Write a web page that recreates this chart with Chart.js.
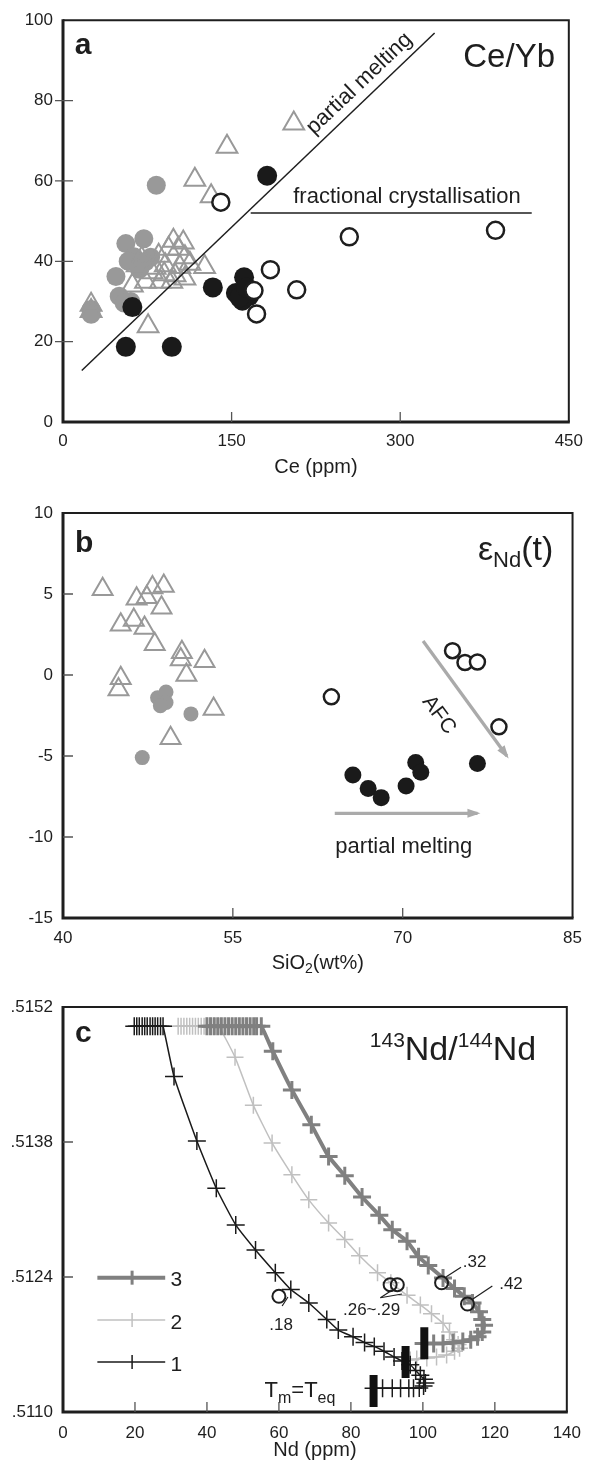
<!DOCTYPE html>
<html lang="en">
<head>
<meta charset="UTF-8">
<title>Ce/Yb, eNd(t) and 143Nd/144Nd diagrams</title>
<script src="https://cdn.jsdelivr.net/npm/chart.js"></script>
<style>
  body { margin: 0; background: #fff; }
  #wrap { position: relative; width: 592px; height: 1466px; }
  canvas { position: absolute; left: 0; }
</style>
</head>
<body>
<div id="wrap">
  <canvas id="chartA" width="592" height="480" style="top:0px"></canvas>
  <canvas id="chartB" width="592" height="500" style="top:480px"></canvas>
  <canvas id="chartC" width="592" height="486" style="top:980px"></canvas>
</div>
<script>
// ---------- panel a : Ce/Yb vs Ce (ppm)
const ceTicks = [0, 150, 300, 450];
const ceYbTicks = [0, 20, 40, 60, 80, 100];

const aOpenCe    = [140.4, 184.5, 169.9, 172.2, 207.9, 254.7, 384.8];
const aOpenRatio = [54.7, 37.9, 32.7, 26.9, 32.9, 46.1, 47.7];
const aBlackCe    = [181.6, 61.7, 55.9, 96.8, 133.3, 161.1, 153.8, 159.6, 165.5, 157.0, 163.0];
const aBlackRatio = [61.3, 28.6, 18.7, 18.7, 33.5, 36.0, 32.1, 30.2, 31.3, 31.0, 33.5];
const aTriCe    = [145.9, 117.3, 131.8, 205.3, 75.7, 126.0, 98.2, 107.0, 85.1, 108.5, 66.0, 79.2, 91.0, 99.7, 108.5,
                   73.4, 86.6, 96.8, 61.7, 112.9, 93.9, 102.6, 70.0, 82.0, 90.0, 104.0, 25.0, 25.0];
const aTriRatio = [68.5, 60.3, 56.2, 74.3, 23.8, 38.6, 45.1, 44.7, 41.4, 41.0, 39.0, 37.3, 39.0, 36.5, 35.7,
                   34.9, 34.9, 34.9, 34.0, 39.4, 43.1, 43.1, 40.7, 38.4, 36.8, 38.6, 29.2, 27.6];
const aGrayCe    = [83.0, 55.9, 71.9, 63.2, 47.1, 50.0, 60.2, 54.4, 73.4, 78.0, 68.0, 58.0, 25.0, 25.0];
const aGrayRatio = [58.9, 44.4, 45.6, 41.1, 36.2, 31.3, 30.0, 29.6, 39.9, 41.0, 38.0, 40.0, 28.0, 26.8];
// trend lines
const aMeltCe = [16.7, 330.6];
const aMeltRatio = [12.8, 96.8];
const aFracCe = [167, 417];
const aFracRatio = [52, 52];

// ---------- panel b : eNd(t) vs SiO2 (wt%)
const siTicks = [40, 55, 70, 85];
const eNdTicks = [-15, -10, -5, 0, 5, 10];

const bTriSi  = [43.5, 46.5, 47.4, 47.9, 48.9, 48.7, 46.25, 45.1, 47.2, 48.1, 50.5, 50.4, 52.5, 50.9, 45.1, 44.9, 53.3, 49.5];
const bTriENd = [5.3, 4.7, 4.8, 5.4, 5.5, 4.15, 3.4, 3.1, 2.9, 1.9, 1.4, 0.95, 0.85, 0.0, -0.2, -0.9, -2.1, -3.9];
const bGraySi  = [48.35, 49.1, 49.1, 48.6, 51.3, 47.0];
const bGrayENd = [-1.4, -1.05, -1.7, -1.9, -2.4, -5.1];
const bOpenSi  = [63.7, 74.4, 75.5, 76.6, 78.5];
const bOpenENd = [-1.35, 1.5, 0.77, 0.8, -3.2];
const bBlackSi  = [65.6, 66.95, 68.1, 70.3, 71.15, 71.6, 76.6];
const bBlackENd = [-6.17, -7.0, -7.57, -6.85, -5.4, -6.0, -5.47];
// arrows
const bAfcSi = [71.8, 79.2];
const bAfcENd = [2.1, -5.0];
const bMeltSi = [64.0, 76.6];
const bMeltENd = [-8.54, -8.54];

// ---------- panel c : 143Nd/144Nd vs Nd (ppm)
const ndTicks = [0, 20, 40, 60, 80, 100, 120, 140];
const ndRatioTicks = [0.5110, 0.5124, 0.5138, 0.5152];

const c1Nd = [19.8, 20.5, 21.2, 22.0, 22.7, 23.4, 24.2, 24.9, 25.6, 26.3, 27.1, 27.8,
              30.85, 37.2, 42.6, 48.0, 53.5, 59.0, 63.3, 68.3, 73.3, 76.5, 80.6, 83.8, 86.5, 89.2,
              92.0, 94.2, 96.5, 98.0, 99.3, 100.3, 100.7, 100.2, 99.0, 97.4, 96.1, 93.8, 91.5, 88.8, 86.3];
const c1Ratio = [0.515, 0.515, 0.515, 0.515, 0.515, 0.515, 0.515, 0.515, 0.515, 0.515, 0.515, 0.515,
                 0.51448, 0.51381, 0.51332, 0.51294, 0.51268, 0.512445, 0.51227, 0.51213, 0.51196, 0.51185,
                 0.51178, 0.51172, 0.51168, 0.51163, 0.51157, 0.51153, 0.51149, 0.51143, 0.51138, 0.51134,
                 0.51130, 0.51127, 0.51125, 0.511246, 0.511246, 0.511246, 0.511246, 0.511246, 0.511246];
const c2Nd = [32.0, 32.8, 33.6, 34.4, 35.2, 36.0, 36.8, 37.6, 38.4, 39.2, 40.0, 41.0, 42.2, 43.3,
              47.8, 52.9, 58.1, 63.6, 68.3, 73.8, 78.3, 82.4, 87.4, 91.1, 95.6, 99.3, 102.4, 105.6,
              107.4, 108.8, 109.8, 110.2, 108.8, 106.6, 103.8, 101.1, 98.3, 96.5];
const c2Ratio = [0.515, 0.515, 0.515, 0.515, 0.515, 0.515, 0.515, 0.515, 0.515, 0.515, 0.515, 0.515, 0.515, 0.515,
                 0.51468, 0.51418, 0.51379, 0.51346, 0.5132, 0.51296, 0.51279, 0.51262, 0.512445, 0.51234,
                 0.51221, 0.51211, 0.51202, 0.51192, 0.51183, 0.51175, 0.51170, 0.51166, 0.51163, 0.51159,
                 0.51157, 0.51156, 0.51155, 0.51154];
const c3Nd = [40, 41, 42, 43, 44, 45, 46, 47, 48, 49, 50, 51, 52, 53, 53.8, 55.1,
              58.3, 63.6, 69.0, 73.8, 78.3, 83.1, 87.9, 91.5, 95.6, 98.8, 101.5, 105.6, 108.8, 111.5,
              113.8, 115.6, 116.5, 117.0, 116.5, 115.2, 113.3, 111.1, 108.4, 105.6, 103.0, 100.2];
const c3Ratio = [0.515, 0.515, 0.515, 0.515, 0.515, 0.515, 0.515, 0.515, 0.515, 0.515, 0.515, 0.515, 0.515, 0.515, 0.515, 0.515,
                 0.51474, 0.51434, 0.51398, 0.51365, 0.51345, 0.51323, 0.51304, 0.51289, 0.51277, 0.51261,
                 0.51252, 0.51239, 0.51228, 0.51220, 0.51213, 0.51204, 0.51196, 0.51190, 0.51183, 0.51178,
                 0.51175, 0.51173, 0.51172, 0.51171, 0.51171, 0.51171];
// Tm=Teq bars and samples
const cBarNd = [86.3, 95.2, 100.4];
const cBarRatio = [0.511218, 0.511519, 0.511712];
const cOpenNd = [60.0, 90.9, 92.9, 105.2, 112.4];
const cOpenRatio = [0.51220, 0.51232, 0.51232, 0.51234, 0.51212];
const cLeadNd = [[60.9, 62.5], [88.2, 91.5], [88.2, 94.2], [106.5, 110.6], [113.8, 119.3]];
const cLeadRatio = [[0.512099, 0.512193], [0.512185, 0.512265], [0.512185, 0.512224], [0.512403, 0.5125], [0.512169, 0.512307]];

// ---------- drawing
const INK = '#1e1e1e';
const GRAY = '#999999';
const FONT = "'Liberation Sans', Arial, Helvetica, sans-serif";

const pts = (xs, ys) => xs.map((v, i) => ({ x: v, y: ys[i] }));

function drawNote(ctx, px, py, n) {
  ctx.save();
  ctx.translate(px, py);
  if (n.rot) ctx.rotate(n.rot * Math.PI / 180);
  ctx.fillStyle = n.color || INK;
  ctx.textBaseline = n.base || 'alphabetic';
  ctx.textAlign = 'left';
  const font = r => (n.bold ? 'bold ' : '') + r[1] + 'px ' + FONT;
  let w = 0;
  n.runs.forEach(r => { ctx.font = font(r); w += ctx.measureText(r[0]).width; });
  let cx = n.align === 'right' ? -w : n.align === 'center' ? -w / 2 : 0;
  n.runs.forEach(r => {
    ctx.font = font(r);
    ctx.fillText(r[0], cx, r[2] || 0);
    cx += ctx.measureText(r[0]).width;
  });
  ctx.restore();
}

function makeDecor(cfg) {
  return {
    id: 'decor',
    afterDatasetsDraw(chart) {
      const { ctx, chartArea: a, scales: { x, y } } = chart;

      // arrow heads on trend arrows
      chart.data.datasets.forEach((ds, i) => {
        if (!ds.arrowHead) return;
        const el = chart.getDatasetMeta(i).data;
        const p1 = el[el.length - 2], p2 = el[el.length - 1];
        const ang = Math.atan2(p2.y - p1.y, p2.x - p1.x);
        ctx.save();
        ctx.translate(p2.x, p2.y);
        ctx.rotate(ang);
        ctx.fillStyle = ds.borderColor;
        ctx.beginPath();
        ctx.moveTo(3, 0); ctx.lineTo(-10, -4.5); ctx.lineTo(-10, 4.5);
        ctx.closePath(); ctx.fill();
        ctx.restore();
      });

      // legend (panel c)
      if (cfg.legend) {
        const L = cfg.legend;
        L.rows.forEach(r => {
          const py = y.getPixelForValue(r.y);
          const x0 = x.getPixelForValue(L.x0), x1 = x.getPixelForValue(L.x1), xm = x.getPixelForValue(L.xm);
          ctx.save();
          ctx.strokeStyle = r.color;
          ctx.lineWidth = r.lw;
          ctx.beginPath(); ctx.moveTo(x0, py); ctx.lineTo(x1, py); ctx.stroke();
          ctx.lineWidth = r.pw;
          ctx.beginPath(); ctx.moveTo(xm, py - r.r); ctx.lineTo(xm, py + r.r); ctx.stroke();
          ctx.restore();
          drawNote(ctx, x.getPixelForValue(L.xl), py + 3, { runs: [[r.label, 21]], base: 'middle' });
        });
      }

      // text notes
      cfg.notes.forEach(n => drawNote(ctx, x.getPixelForValue(n.x), y.getPixelForValue(n.y), n));

      // axis title
      drawNote(ctx, (a.left + a.right) / 2, a.bottom + cfg.titleDy, { runs: cfg.title, align: 'center', base: 'middle' });

      // frame and ticks
      ctx.save();
      ctx.strokeStyle = INK;
      ctx.lineWidth = 2;
      ctx.beginPath(); ctx.moveTo(a.left, a.top); ctx.lineTo(a.right, a.top); ctx.lineTo(a.right, a.bottom); ctx.stroke();
      ctx.lineWidth = 3;
      ctx.beginPath(); ctx.moveTo(a.left, a.top - 1); ctx.lineTo(a.left, a.bottom); ctx.lineTo(a.right + 1, a.bottom); ctx.stroke();
      ctx.strokeStyle = '#555';
      ctx.lineWidth = 1.3;
      ctx.beginPath();
      x.ticks.forEach(t => {
        const px = x.getPixelForValue(t.value);
        if (px < a.left + 3 || px > a.right - 3) return;
        ctx.moveTo(px, a.bottom); ctx.lineTo(px, a.bottom - 10);
      });
      y.ticks.forEach(t => {
        const py = y.getPixelForValue(t.value);
        if (py < a.top + 3 || py > a.bottom - 3) return;
        ctx.moveTo(a.left - cfg.yOut, py); ctx.lineTo(a.left + 10, py);
      });
      ctx.stroke();
      ctx.restore();
    }
  };
}

function scaleOpts(min, max, tickValues, fit, pad, fmt) {
  return {
    type: 'linear', min: min, max: max,
    afterBuildTicks: s => { s.ticks = tickValues.map(v => ({ value: v })); },
    afterFit: fit,
    grid: { display: false, drawTicks: false },
    border: { display: false },
    ticks: {
      color: INK, font: { family: FONT, size: 17 }, padding: pad,
      autoSkip: false, maxRotation: 0, callback: fmt || (v => v)
    }
  };
}

function scatter(data, style, color, r, fill, bw) {
  return {
    data: data, showLine: false, pointStyle: style, pointRadius: r,
    pointBackgroundColor: fill, pointBorderColor: color, pointBorderWidth: bw
  };
}

function line(data, color, w, arrow) {
  return { data: data, showLine: true, pointRadius: 0, borderColor: color, borderWidth: w, arrowHead: !!arrow };
}

function makeChart(id, datasets, xs, ys, padTop, decor) {
  return new Chart(document.getElementById(id), {
    type: 'scatter',
    data: { datasets: datasets },
    options: {
      responsive: false, animation: false, events: [],
      layout: { padding: { top: padTop, right: 16, left: 0, bottom: 0 } },
      plugins: { legend: { display: false }, tooltip: { enabled: false } },
      scales: { x: xs, y: ys }
    },
    plugins: [decor]
  });
}

// panel a
makeChart('chartA', [
  scatter(pts(aOpenCe, aOpenRatio), 'circle', INK, 8.5, '#fff', 2.5),
  scatter(pts(aBlackCe, aBlackRatio), 'circle', '#1a1a1a', 10, '#1a1a1a', 0),
  line(pts(aMeltCe, aMeltRatio), INK, 1.5),
  line(pts(aFracCe, aFracRatio), INK, 1.5),
  scatter(pts(aTriCe, aTriRatio), 'triangle', GRAY, 12, 'rgba(0,0,0,0)', 2),
  scatter(pts(aGrayCe, aGrayRatio), 'circle', GRAY, 9.5, GRAY, 0)
],
  scaleOpts(0, 450, ceTicks, s => { s.height = 58; }, 9),
  scaleOpts(0, 100, ceYbTicks, s => { s.width = 63; }, 10),
  16,
  makeDecor({
    yOut: 8, titleDy: 45, title: [['Ce (ppm)', 20]],
    notes: [
      { x: 10.5, y: 91.6, runs: [['a', 30]], bold: true },
      { x: 437.7, y: 88.4, runs: [['Ce/Yb', 33]], align: 'right' },
      { x: 263.6, y: 84.2, runs: [['partial melting', 22]], align: 'center', base: 'middle', rot: -43.6 },
      { x: 306, y: 55.9, runs: [['fractional crystallisation', 22]], align: 'center', base: 'middle' }
    ]
  })
);

// panel b
makeChart('chartB', [
  scatter(pts(bOpenSi, bOpenENd), 'circle', INK, 7.5, '#fff', 2.5),
  scatter(pts(bBlackSi, bBlackENd), 'circle', '#1a1a1a', 8.5, '#1a1a1a', 0),
  line(pts(bAfcSi, bAfcENd), '#aaaaaa', 3.3, true),
  line(pts(bMeltSi, bMeltENd), '#aaaaaa', 3.3, true),
  scatter(pts(bTriSi, bTriENd), 'triangle', GRAY, 11.5, 'rgba(0,0,0,0)', 2),
  scatter(pts(bGraySi, bGrayENd), 'circle', GRAY, 7.5, GRAY, 0)
],
  scaleOpts(40, 85, siTicks, s => { s.height = 62; }, 10),
  scaleOpts(-15, 10, eNdTicks, s => { s.width = 63; }, 10),
  33,
  makeDecor({
    yOut: 0, titleDy: 45, title: [['SiO', 20], ['2', 14, 6], ['(wt%)', 20]],
    notes: [
      { x: 41.05, y: 7.6, runs: [['b', 30]], bold: true },
      { x: 83.3, y: 7.1, runs: [['ε', 34], ['Nd', 22, 7], ['(t)', 34]], align: 'right' },
      { x: 70.1, y: -10.6, runs: [['partial melting', 22]], align: 'center', base: 'middle' },
      { x: 73.2, y: -2.47, runs: [['AFC', 21]], align: 'center', base: 'middle', rot: 53.5 }
    ]
  })
);

// panel c
const cDatasets = [
  scatter(pts(cOpenNd, cOpenRatio), 'circle', INK, 6.5, 'rgba(0,0,0,0)', 2),
  { data: pts(cBarNd, cBarRatio), showLine: false, pointStyle: 'line', pointRotation: 90,
    pointRadius: 16, pointBorderColor: '#111', pointBorderWidth: 8 }
];
cLeadNd.forEach((xs, i) => cDatasets.push(line(pts(xs, cLeadRatio[i]), INK, 1.2)));
cDatasets.push(
  { data: pts(c1Nd, c1Ratio), showLine: true, tension: 0.15, borderColor: '#1a1a1a', borderWidth: 1.5,
    pointStyle: 'cross', pointRadius: 9, pointBorderColor: '#1a1a1a', pointBorderWidth: 1.5 },
  { data: pts(c3Nd, c3Ratio), showLine: true, tension: 0.15, borderColor: '#808080', borderWidth: 4,
    pointStyle: 'cross', pointRadius: 9, pointBorderColor: '#808080', pointBorderWidth: 3 },
  { data: pts(c2Nd, c2Ratio), showLine: true, tension: 0.15, borderColor: '#c0c0c0', borderWidth: 1.5,
    pointStyle: 'cross', pointRadius: 8.5, pointBorderColor: '#c0c0c0', pointBorderWidth: 1.5 }
);

makeChart('chartC', cDatasets,
  scaleOpts(0, 140, ndTicks, s => { s.height = 54; }, 11),
  scaleOpts(0.5110, 0.5152, ndRatioTicks, s => { s.width = 63; }, 10, v => '.' + Math.round(v * 10000)),
  27,
  makeDecor({
    yOut: 0, titleDy: 38, title: [['Nd (ppm)', 20]],
    legend: {
      x0: 9.55, x1: 28.4, xm: 19.2, xl: 29.9,
      rows: [
        { label: '3', color: '#808080', lw: 4, pw: 3, r: 7, y: 0.512393 },
        { label: '2', color: '#c0c0c0', lw: 1.5, pw: 1.5, r: 7, y: 0.511954 },
        { label: '1', color: '#1a1a1a', lw: 1.5, pw: 1.5, r: 7, y: 0.511519 }
      ]
    },
    notes: [
      { x: 3.3, y: 0.51484, runs: [['c', 30]], bold: true },
      { x: 131.5, y: 0.51465, runs: [['143', 21, -13], ['Nd/', 34], ['144', 21, -13], ['Nd', 34]], align: 'right' },
      { x: 56.0, y: 0.511156, runs: [['T', 22], ['m', 16, 6], ['=T', 22], ['eq', 16, 6]] },
      { x: 57.3, y: 0.5119, runs: [['.18', 17]], base: 'middle' },
      { x: 77.8, y: 0.512058, runs: [['.26~.29', 17]], base: 'middle' },
      { x: 111.1, y: 0.512556, runs: [['.32', 17]], base: 'middle' },
      { x: 121.2, y: 0.512327, runs: [['.42', 17]], base: 'middle' }
    ]
  })
);
</script>
</body>
</html>
